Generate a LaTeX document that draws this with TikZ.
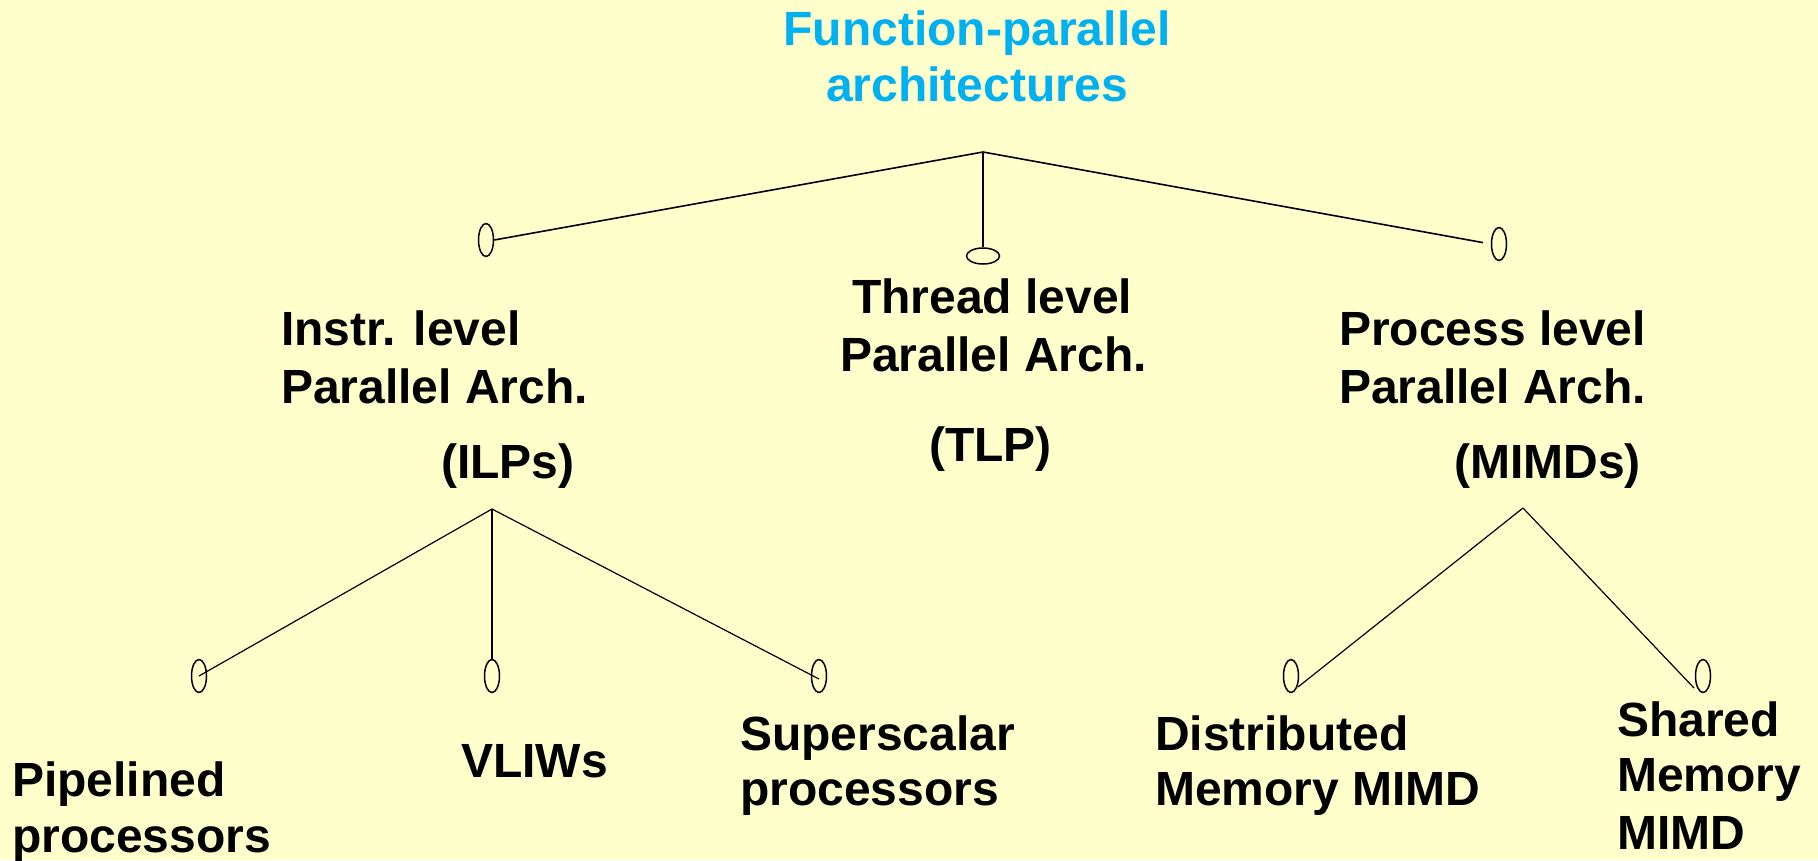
\documentclass[tikz,border=0pt]{standalone}
\usepackage{fontspec}
\setmainfont{Liberation Sans}
\usetikzlibrary{shapes.geometric}
\definecolor{bgyellow}{HTML}{FFFFCC}
\definecolor{titlecyan}{HTML}{00B0F0}
\begin{document}
\begin{tikzpicture}[x=1pt,y=-1pt,
  lbl/.style={anchor=base west, inner sep=0pt, font=\fontsize{48}{58}\selectfont\bfseries},
  ttl/.style={anchor=base, inner sep=0pt, font=\fontsize{48}{58}\selectfont\bfseries, text=titlecyan},
  vleaf/.style={draw, ellipse, minimum width=15pt, minimum height=33pt, inner sep=0pt, line width=1.5pt},
  hleaf/.style={draw, ellipse, minimum width=33pt, minimum height=16pt, inner sep=0pt, line width=1.5pt},
  topedge/.style={line width=1.6pt},
  subedge/.style={line width=1.2pt}]
\fill[bgyellow] (0,0) rectangle (1818,860);
\useasboundingbox (0,0) rectangle (1818,860);

% title
\node[ttl] (t1) at (977,45) {Function-parallel};
\node[ttl] (t2) at (977,101) {architectures};

% branch points
\coordinate (root) at (983,152);
\coordinate (ilpsplit) at (492,509);
\coordinate (mimdsplit) at (1523,508);

% first level ellipses
\node[vleaf] (eilp) at (486,240) {};
\node[hleaf] (etlp) at (983,256) {};
\node[vleaf] (emimd) at (1499,244) {};

\draw[topedge] (root) -- (eilp.east);
\draw[topedge] (root) -- (etlp.north);
\draw[topedge, shorten >=8pt] (root) -- (emimd.west);

% first level labels
\node[lbl] (ilpa) at (281,345) {Instr. level};
\node[lbl] (ilpb) at (281,403) {Parallel Arch.};
\node[lbl] (ilpc) at (441,478) {(ILPs)};

\node[lbl] (tlpa) at (852,313) {Thread level};
\node[lbl] (tlpb) at (840,371) {Parallel Arch.};
\node[lbl] (tlpc) at (929,461) {(TLP)};

\node[lbl] (mima) at (1339,345) {Process level};
\node[lbl] (mimb) at (1339,403) {Parallel Arch.};
\node[lbl] (mimc) at (1454,478) {(MIMDs)};

% second level ellipses
\node[vleaf] (epipe) at (199,676) {};
\node[vleaf] (evliw) at (492,676) {};
\node[vleaf] (esup) at (819,676) {};
\node[vleaf] (edist) at (1291,676) {};
\node[vleaf] (eshar) at (1703,676) {};

\draw[subedge] (ilpsplit) -- (epipe.center);
\draw[subedge] (ilpsplit) -- (evliw.north);
\draw[subedge] (ilpsplit) -- ([yshift=-3pt]esup.center);
\draw[subedge] (mimdsplit) -- ([xshift=7pt,yshift=-11pt]edist.center);
\draw[subedge] (mimdsplit) -- ([xshift=-9pt,yshift=-12pt]eshar.center);

% second level labels
\node[lbl] (pipa) at (12,796) {Pipelined};
\node[lbl] (pipb) at (12,852) {processors};
\node[lbl] (vliw) at (461,777) {VLIWs};
\node[lbl] (supa) at (740,750) {Superscalar};
\node[lbl] (supb) at (740,805) {processors};
\node[lbl] (dista) at (1155,750) {Distributed};
\node[lbl] (distb) at (1155,805) {Memory MIMD};
\node[lbl] (shara) at (1617,736) {Shared};
\node[lbl] (sharb) at (1617,791) {Memory};
\node[lbl] (sharc) at (1617,849) {MIMD};
\end{tikzpicture}
\end{document}
